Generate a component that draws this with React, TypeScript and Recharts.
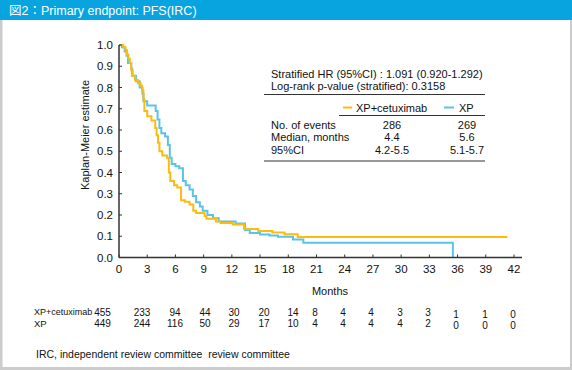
import React from 'react';
import { LineChart, Line, XAxis, YAxis } from 'recharts';

const FONT = "'Liberation Sans', Arial, Helvetica, 'Noto Sans CJK JP', sans-serif";

const monthTicks = [0, 3, 6, 9, 12, 15, 18, 21, 24, 27, 30, 33, 36, 39, 42];
const survivalTicks = [0, 0.1, 0.2, 0.3, 0.4, 0.5, 0.6, 0.7, 0.8, 0.9, 1.0];

// Kaplan-Meier steps: month, survival (stepAfter)
const xpCetuximabMonths = [0, 0.45, 0.7, 0.85, 1.0, 1.15, 1.3, 1.45, 1.7, 2.0, 2.3, 2.45, 2.6, 2.7, 3.0, 3.45, 3.85, 4.0, 4.15, 4.3, 4.6, 5.1, 5.3, 5.45, 5.85, 6.2, 6.6, 7.0, 7.5, 7.9, 8.2, 9.1, 9.3, 10.3, 10.8, 12.1, 13.3, 14.8, 16.3, 17.6, 19.0, 41.3];
const xpCetuximabSurv = [1.0, 0.99, 0.975, 0.955, 0.935, 0.915, 0.88, 0.855, 0.835, 0.82, 0.81, 0.785, 0.745, 0.69, 0.665, 0.645, 0.61, 0.575, 0.54, 0.5, 0.48, 0.47, 0.4, 0.36, 0.34, 0.33, 0.27, 0.262, 0.25, 0.22, 0.21, 0.195, 0.182, 0.17, 0.162, 0.155, 0.134, 0.125, 0.118, 0.109, 0.097, 0.097];

const xpMonths = [0, 0.3, 0.6, 0.8, 0.95, 1.3, 1.4, 1.8, 2.2, 2.5, 2.6, 3.0, 3.9, 4.1, 4.3, 4.5, 4.9, 5.2, 5.4, 5.6, 6.0, 6.4, 6.8, 7.1, 7.5, 7.85, 8.2, 8.6, 8.9, 9.4, 10.0, 10.6, 12.4, 13.4, 13.9, 15.0, 16.0, 16.9, 18.5, 19.6, 35.5];
const xpSurv = [1.0, 0.99, 0.97, 0.95, 0.915, 0.89, 0.855, 0.83, 0.8, 0.77, 0.735, 0.715, 0.69, 0.65, 0.61, 0.585, 0.57, 0.53, 0.47, 0.44, 0.43, 0.42, 0.36, 0.34, 0.32, 0.29, 0.26, 0.24, 0.22, 0.2, 0.185, 0.17, 0.16, 0.13, 0.115, 0.108, 0.104, 0.098, 0.085, 0.07, 0];

const riskXPC = [455, 233, 94, 44, 30, 20, 14, 8, 4, 4, 3, 3, 1, 1, 0];
const riskXP = [449, 244, 116, 50, 29, 17, 10, 4, 4, 4, 4, 2, 0, 0, 0];

const seriesNames = ['XP+cetuximab', 'XP'];
const hrLine = 'Stratified HR (95%CI) : 1.091 (0.920-1.292)';
const pLine = 'Log-rank p-value (stratified): 0.3158';
const statLabels = ['No. of events', 'Median, months', '95%CI'];
const statXPC = ['286', '4.4', '4.2-5.5'];
const statXP = ['269', '5.6', '5.1-5.7'];

const title = '図2：Primary endpoint: PFS(IRC)';
const yLabel = 'Kaplan-Meier estimate';
const xLabel = 'Months';
const footnote = 'IRC, independent review committee  review committee';

const ORANGE = '#fcbc0e';
const BLUE = '#5bc3e8';
const AXIS = '#333333';

const dataXPC = xpCetuximabMonths.map((t, i) => ({ t, s: xpCetuximabSurv[i] }));
const dataXP = xpMonths.map((t, i) => ({ t, s: xpSurv[i] }));

// layout constants for the number-at-risk columns (centers)
const riskCols = [102.5, 142, 175, 205, 234, 264, 293, 315, 343, 371, 400, 428, 456, 485, 513];

const XTick = (props: any) => {
  const { x, y, payload } = props;
  return (
    <g>
      <line x1={x} x2={x} y1={y} y2={y - 3} stroke={AXIS} strokeWidth={1} />
      <text x={x} y={y + 11} textAnchor="middle" dominantBaseline="central" fontSize={11.5} fill="#111" fontFamily={FONT}>
        {payload.value}
      </text>
    </g>
  );
};

const YTick = (props: any) => {
  const { x, y, payload } = props;
  return (
    <g>
      <line x1={x} x2={x + 3} y1={y} y2={y} stroke={AXIS} strokeWidth={1} />
      <text x={x - 6} y={y} textAnchor="end" dominantBaseline="central" fontSize={11.5} fill="#111" fontFamily={FONT}>
        {Number(payload.value).toFixed(1)}
      </text>
    </g>
  );
};

export default function App() {
  const txt = { fontFamily: FONT, fill: '#111' } as const;
  return (
    <div style={{ position: 'absolute', left: 0, top: 0, width: 572, height: 370, background: '#fff', fontFamily: FONT }}>
      <div style={{ position: 'absolute', left: 0, top: 0 }}>
        <LineChart width={572} height={370} margin={{ top: 45, right: 50, bottom: 92.5, left: 79 }}>
          <XAxis
            dataKey="t"
            type="number"
            domain={[0, 42.85]}
            ticks={monthTicks}
            height={20}
            allowDataOverflow
            tickSize={0}
            tickMargin={0}
            axisLine={{ stroke: AXIS, strokeWidth: 1.5 }}
            tickLine={false}
            tick={<XTick />}
            interval={0}
          />
          <YAxis
            type="number"
            domain={[0, 1]}
            ticks={survivalTicks}
            width={40}
            tickSize={0}
            tickMargin={0}
            axisLine={{ stroke: AXIS, strokeWidth: 1.5 }}
            tickLine={false}
            tick={<YTick />}
            interval={0}
          />
          <Line data={dataXP} dataKey="s" type="stepAfter" stroke={BLUE} strokeWidth={2} dot={false} isAnimationActive={false} />
          <Line data={dataXPC} dataKey="s" type="stepAfter" stroke={ORANGE} strokeWidth={2} dot={false} isAnimationActive={false} />
        </LineChart>
      </div>
      <svg width={572} height={370} style={{ position: 'absolute', left: 0, top: 0, pointerEvents: 'none' }}>
        {/* frame */}
        <rect x={0} y={0} width={572} height={20} fill="#08a4df" />
        <rect x={0} y={20} width={2.5} height={350} fill="#cccccc" />
        <rect x={570} y={20} width={2} height={350} fill="#cccccc" />
        <rect x={0} y={367} width={572} height={3} fill="#cccccc" />
        <text x={9} y={10.5} fontSize={12.5} fill="#fff" fontFamily={FONT} dominantBaseline="central">{title}</text>

        {/* axis titles */}
        <text x={85} y={135} fontSize={11} {...txt} textAnchor="middle" dominantBaseline="central" transform="rotate(-90 85 135)">{yLabel}</text>
        <text x={330} y={291} fontSize={11} {...txt} textAnchor="middle" dominantBaseline="central">{xLabel}</text>

        {/* stats box */}
        <text x={271} y={73.5} fontSize={11} {...txt} dominantBaseline="central">{hrLine}</text>
        <text x={271} y={85.5} fontSize={11} {...txt} dominantBaseline="central">{pLine}</text>
        <line x1={264} x2={485} y1={94.5} y2={94.5} stroke="#333" strokeWidth={1} />
        <line x1={343} x2={352} y1={107.5} y2={107.5} stroke={ORANGE} strokeWidth={2} />
        <text x={356} y={107.5} fontSize={11} {...txt} dominantBaseline="central">{seriesNames[0]}</text>
        <line x1={444} x2={454} y1={107.5} y2={107.5} stroke={BLUE} strokeWidth={2} />
        <text x={459} y={107.5} fontSize={11} {...txt} dominantBaseline="central">{seriesNames[1]}</text>
        <line x1={339} x2={485} y1={115.5} y2={115.5} stroke="#333" strokeWidth={1} />
        {statLabels.map((l, i) => (
          <g key={l}>
            <text x={271} y={125 + i * 12.3} fontSize={11} {...txt} dominantBaseline="central">{l}</text>
            <text x={392} y={125 + i * 12.3} fontSize={11} {...txt} textAnchor="middle" dominantBaseline="central">{statXPC[i]}</text>
            <text x={467} y={125 + i * 12.3} fontSize={11} {...txt} textAnchor="middle" dominantBaseline="central">{statXP[i]}</text>
          </g>
        ))}
        <line x1={264} x2={485} y1={161} y2={161} stroke="#333" strokeWidth={1} />

        {/* numbers at risk */}
        <text x={34} y={312} fontSize={9} {...txt} dominantBaseline="central">{seriesNames[0]}</text>
        <text x={34} y={323} fontSize={9.5} {...txt} dominantBaseline="central">{seriesNames[1]}</text>
        {riskXPC.map((v, i) => (
          <text key={'a' + i} x={riskCols[i]} y={312 + (i >= 12 ? 2.5 : 0)} fontSize={10} {...txt} textAnchor="middle" dominantBaseline="central">{v}</text>
        ))}
        {riskXP.map((v, i) => (
          <text key={'b' + i} x={riskCols[i]} y={323 + (i >= 12 ? 2.5 : 0)} fontSize={10} {...txt} textAnchor="middle" dominantBaseline="central">{v}</text>
        ))}
        <text x={36} y={354} fontSize={10.5} {...txt} dominantBaseline="central" style={{ whiteSpace: 'pre' }} xmlSpace="preserve">{footnote}</text>
      </svg>
    </div>
  );
}
